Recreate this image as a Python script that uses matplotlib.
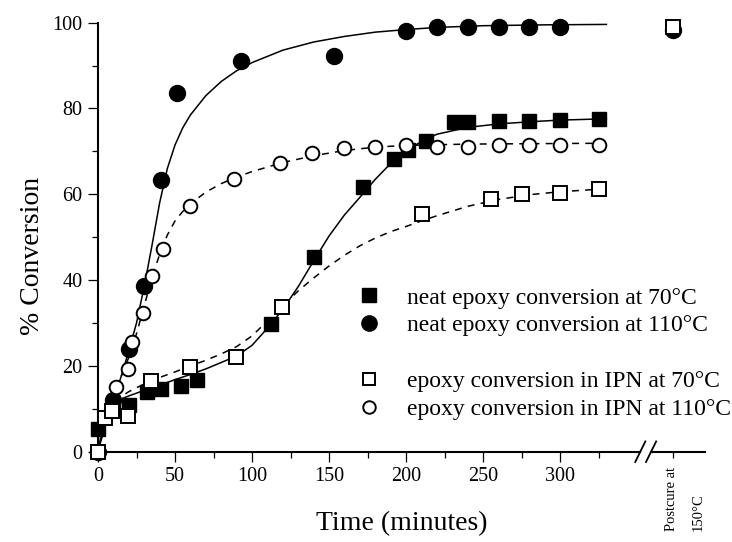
import matplotlib.pyplot as plt
import matplotlib.transforms as mtransforms
from matplotlib.lines import Line2D

plt.rcParams['font.family'] = ['Liberation Serif', 'DejaVu Serif']
plt.rcParams['lines.scale_dashes'] = False

# measured conversions (time in minutes, % conversion)
neat70_t = [0, 10, 20, 32, 41, 54, 64, 112, 140, 172, 192, 201, 213, 231, 240, 260, 280, 300, 325]
neat70_y = [5.4, 10.5, 11.0, 14.0, 14.5, 15.3, 16.7, 29.8, 45.5, 61.6, 68.2, 70.3, 72.5, 76.9, 76.9, 77.1, 77.1, 77.3, 77.5]

neat110_t = [0, 10, 20, 30, 41, 51, 93, 153, 200, 220, 240, 260, 280, 300]
neat110_y = [0, 12.0, 24.0, 38.6, 63.3, 83.5, 91.0, 92.2, 98.1, 99.1, 99.1, 99.1, 99.1, 99.1]

ipn70_t = [0, 4.5, 9.3, 19.7, 34.4, 59.7, 89.6, 119.7, 210, 255, 275, 300, 325]
ipn70_y = [0, 7.8, 9.5, 8.4, 16.5, 19.8, 22.0, 33.7, 55.5, 58.8, 60.0, 60.3, 61.2]

ipn110_t = [0, 12, 19.3, 21.9, 29.4, 35, 42, 60, 88.5, 118, 139, 160, 180, 200, 220, 240, 260, 280, 300, 325]
ipn110_y = [0, 15.0, 19.3, 25.6, 32.3, 41.0, 47.3, 57.3, 63.6, 67.3, 69.6, 70.7, 71.1, 71.5, 71.0, 71.1, 71.5, 71.5, 71.5, 71.5]

# values after postcure at 150 C
postcure_ipn70 = 99.0
postcure_neat110 = 98.2

# fitted curves traced along the plotted fits
neat70_fit_t = [0, 3, 6, 10, 15, 20, 30, 40, 50, 60, 70, 80, 90, 100, 110, 120, 130, 140, 150,
                160, 170, 180, 190, 200, 210, 220, 240, 260, 280, 300, 330]
neat70_fit_y = [0, 6.0, 9.0, 11.0, 12.3, 13.0, 14.3, 15.5, 16.8, 18.0, 19.3, 20.8, 22.3, 24.8, 28.8,
                33.2, 38.5, 44.5, 50.3, 55.2, 59.3, 63.5, 67.2, 70.2, 72.3, 74.0, 75.6, 76.4, 76.9, 77.3, 77.6]

neat110_fit_t = [0, 5, 10, 15, 20, 25, 30, 35, 40, 45, 50, 55, 60, 70, 80, 90, 100, 120, 140,
                 160, 180, 200, 220, 250, 290, 330]
neat110_fit_y = [0, 6.5, 12.0, 17.5, 23.5, 30.0, 38.5, 48.0, 58.0, 66.0, 71.5, 75.5, 78.5, 83.0, 86.3,
                 88.8, 90.7, 93.6, 95.5, 96.8, 97.8, 98.4, 98.9, 99.3, 99.5, 99.6]

ipn70_fit_t = [0, 3, 6, 10, 15, 20, 30, 40, 50, 60, 70, 80, 90, 100, 110, 120, 130, 140, 150, 160,
               170, 180, 190, 200, 210, 220, 240, 260, 280, 300, 330]
ipn70_fit_y = [0, 5.0, 8.5, 10.8, 12.8, 14.0, 15.8, 17.3, 18.6, 20.0, 21.3, 22.8, 24.5, 27.0, 30.5,
               34.0, 37.5, 40.5, 43.3, 45.8, 48.0, 49.8, 51.3, 52.5, 53.8, 55.0, 57.2, 58.8, 59.9, 60.6, 61.3]

ipn110_fit_t = [0, 5, 10, 15, 20, 25, 30, 35, 40, 45, 50, 55, 60, 70, 80, 90, 100, 120, 140, 160,
                180, 200, 240, 280, 330]
ipn110_fit_y = [0, 7.5, 13.0, 17.5, 22.0, 27.5, 34.0, 40.5, 46.0, 50.5, 53.8, 56.0, 57.8, 60.5, 62.5,
                64.0, 65.3, 67.4, 69.0, 70.2, 71.0, 71.4, 71.7, 71.8, 71.9]

legend_labels = ["neat epoxy conversion at 70\u00b0C",
                 "neat epoxy conversion at 110\u00b0C",
                 "epoxy conversion in IPN at 70\u00b0C",
                 "epoxy conversion in IPN at 110\u00b0C"]

# where the postcure column sits on the broken time axis
POSTCURE_X = 373
X_MAX = 394
BREAK_X = [352, 359]

W, H = 732, 542
fig = plt.figure(figsize=(W / 100, H / 100), dpi=100)
ax = fig.add_axes([98 / W, 1 - 451.7 / H, 607 / W, 429 / H])

filled_sq = dict(marker='s', ms=10.5, color='black', linestyle='none', clip_on=False, zorder=4)
filled_ci = dict(marker='o', ms=11.5, color='black', linestyle='none', clip_on=False, zorder=4)
open_sq = dict(marker='s', ms=9.5, mfc='white', mec='black', mew=1.4, linestyle='none',
               clip_on=False, zorder=5)
open_ci = dict(marker='o', ms=9.8, mfc='white', mec='black', mew=1.4, linestyle='none',
               clip_on=False, zorder=5)

# fitted curves
ax.plot(neat70_fit_t, neat70_fit_y, color='black', lw=1.1, zorder=2)
ax.plot(neat110_fit_t, neat110_fit_y, color='black', lw=1.1, zorder=2)
ax.plot(ipn70_fit_t, ipn70_fit_y, color='black', lw=1.1, dashes=(5, 4.5), zorder=2)
ax.plot(ipn110_fit_t, ipn110_fit_y, color='black', lw=1.1, dashes=(5, 4.5), zorder=2)

# data points
ax.plot(neat110_t, neat110_y, **filled_ci)
ax.plot(neat70_t, neat70_y, **filled_sq)
ax.plot(ipn110_t, ipn110_y, **open_ci)
ax.plot(ipn70_t, ipn70_y, **open_sq)
ax.plot([POSTCURE_X], [postcure_neat110], **filled_ci)
ax.plot([POSTCURE_X], [postcure_ipn70], **open_sq)

ax.set_xlim(0, X_MAX)
ax.set_ylim(0, 100)

for side in ['top', 'right', 'bottom']:
    ax.spines[side].set_visible(False)
ax.spines['left'].set_linewidth(1.5)

# bottom axis drawn in two pieces with a // break
trans = mtransforms.blended_transform_factory(ax.transData, ax.transAxes)
ax.plot([0, BREAK_X[0]], [0, 0], color='black', lw=1.5, transform=trans, clip_on=False)
ax.plot([BREAK_X[1], X_MAX], [0, 0], color='black', lw=1.5, transform=trans, clip_on=False)
for bx in BREAK_X:
    ax.plot([bx - 3.3, bx + 3.3], [-0.024, 0.024], color='black', lw=1.3,
            transform=trans, clip_on=False)

ax.set_xticks(range(0, 301, 50))
ax.set_xticks(list(range(25, 326, 50)) + [POSTCURE_X], minor=True)
ax.set_yticks(range(0, 101, 20))
ax.set_yticks(range(10, 100, 20), minor=True)
ax.tick_params(which='major', direction='out', length=7, width=0.9, labelsize=14.5, pad=4)
ax.tick_params(which='minor', direction='out', length=4.3, width=0.9)

ax.set_xlabel("Time (minutes)", fontsize=20)
ax.xaxis.set_label_coords(0.5, -0.138)
ax.set_ylabel("% Conversion", fontsize=20)
ax.yaxis.set_label_coords(-0.088, 0.456)

# postcure label under its tick
ptrans = mtransforms.blended_transform_factory(ax.transData, fig.transFigure)
ax.text(POSTCURE_X - 1, 11 / H, "Postcure at", rotation=90, ha='center', va='bottom',
        fontsize=10.5, transform=ptrans)
ax.text(POSTCURE_X + 16.5, 11 / H, "150\u00b0C", rotation=90, ha='center', va='bottom',
        fontsize=10.5, transform=ptrans)

handles = [Line2D([], [], **{**filled_sq, 'ms': 10}),
           Line2D([], [], **{**filled_ci, 'ms': 11}),
           Line2D([], [], linestyle='none'),
           Line2D([], [], **{**open_sq, 'ms': 9}),
           Line2D([], [], **{**open_ci, 'ms': 9})]
labels = legend_labels[:2] + [' '] + legend_labels[2:]
ax.legend(handles, labels, loc='upper left', bbox_to_anchor=(359.5 / W, 1 - 287 / H),
          bbox_transform=fig.transFigure, frameon=False, fontsize=17, handlelength=0.8,
          handletextpad=1.2, labelspacing=0.27, borderpad=0, borderaxespad=0)

fig.savefig("out.png", dpi=100)
